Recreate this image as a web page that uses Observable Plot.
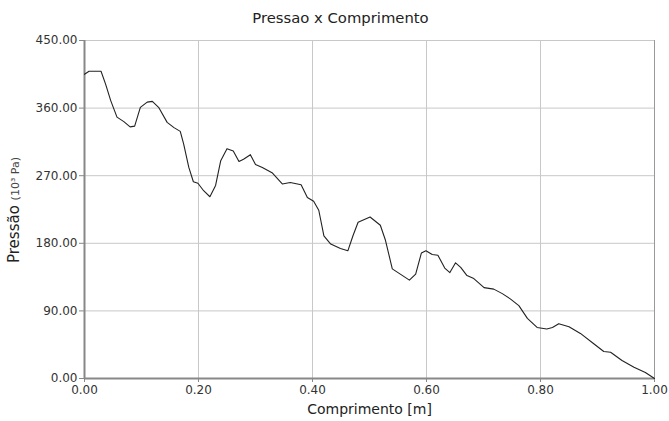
<!DOCTYPE html>
<html>
<head>
<meta charset="utf-8">
<script src="https://cdn.jsdelivr.net/npm/d3@7"></script>
<script src="https://cdn.jsdelivr.net/npm/@observablehq/plot@0.6"></script>
<style>
  html, body { margin: 0; padding: 0; background: #fff; }
  body { width: 669px; height: 421px; overflow: hidden; font-family: "DejaVu Sans", sans-serif; }
  #title { height: 32px; line-height: 35px; text-align: center; font-size: 14.8px; color: #222; padding-left: 12px; box-sizing: border-box; }
  svg { display: block; }
</style>
</head>
<body>
<div id="title">Pressao x Comprimento</div>
<div id="chart"></div>
<script>
// Comprimento [m]
const comprimento = [0.000,0.008,0.029,0.037,0.046,0.057,0.069,0.080,0.088,0.098,0.110,0.119,0.130,0.145,0.157,0.168,0.174,0.183,0.191,0.199,0.209,0.220,0.230,0.239,0.250,0.261,0.271,0.279,0.291,0.300,0.312,0.329,0.347,0.361,0.380,0.391,0.402,0.411,0.420,0.432,0.449,0.462,0.471,0.480,0.501,0.519,0.528,0.540,0.554,0.570,0.581,0.591,0.599,0.610,0.620,0.632,0.641,0.651,0.660,0.671,0.683,0.701,0.718,0.733,0.747,0.762,0.777,0.794,0.811,0.821,0.832,0.850,0.870,0.894,0.911,0.923,0.943,0.964,0.984,1.000];
// Pressão (10^3 Pa)
const pressao = [405,409,409,392,370,348,342,335,336,361,368,369,361,341,334,329,312,281,262,260,250,242,257,290,306,303,289,292,298,285,281,274,259,261,258,241,236,224,190,179,173,170,190,208,215,204,184,146,139,131,139,167,170,165,164,147,141,154,148,137,133,121,119,113,106,97,80,68,66,68,73,69,60,46,36,35,24,15,8,0];
const xTicks = [0, 0.2, 0.4, 0.6, 0.8, 1.0];
const yTicks = [0, 90, 180, 270, 360, 450];
const xLabel = "Comprimento [m]";
const yLabelMain = "Pressão";
const yLabelUnit = "(10³ Pa)";

const data = comprimento.map((x, i) => ({x, y: pressao[i]}));
const fmt = d3.format(".2f");

const chart = Plot.plot({
  width: 669,
  height: 389,
  marginTop: 8,
  marginBottom: 43,
  marginLeft: 84,
  marginRight: 15,
  style: {fontFamily: "DejaVu Sans, sans-serif", fontSize: "12px", color: "#333", background: "#fff"},
  x: {domain: [0, 1]},
  y: {domain: [0, 450]},
  marks: [
    Plot.gridX(xTicks, {stroke: "#c8c8c8", strokeOpacity: 1, strokeWidth: 1}),
    Plot.gridY(yTicks, {stroke: "#c8c8c8", strokeOpacity: 1, strokeWidth: 1}),
    Plot.axisX(xTicks, {tickFormat: fmt, tickSize: 4, tickPadding: 3, label: null, stroke: "#888", fontSize: 12, fill: "#333"}),
    Plot.axisY(yTicks, {tickFormat: fmt, tickSize: 5, tickPadding: 2, label: null, stroke: "#888", fontSize: 12, fill: "#333"}),
    Plot.ruleX([0], {stroke: "#888", strokeWidth: 2}),
    Plot.ruleY([0], {stroke: "#888", strokeWidth: 2}),
    Plot.ruleX([1], {stroke: "#999", strokeWidth: 1}),
    Plot.line(data, {x: "x", y: "y", stroke: "#222", strokeWidth: 1.1}),
    Plot.text([xLabel], {frameAnchor: "bottom", lineAnchor: "middle", dy: 31, fontSize: 14, fill: "#222"})
  ]
});
document.getElementById("chart").appendChild(chart);

// y-axis label with smaller unit part
const svg = d3.select(chart);
const t = svg.append("text")
  .attr("transform", "translate(19, 178) rotate(-90)")
  .attr("text-anchor", "middle")
  .attr("fill", "#222")
  .attr("font-family", "DejaVu Sans, sans-serif");
t.append("tspan").attr("font-size", 15).text(yLabelMain + " ");
t.append("tspan").attr("font-size", 11).attr("fill", "#444").text(yLabelUnit);
</script>
</body>
</html>
